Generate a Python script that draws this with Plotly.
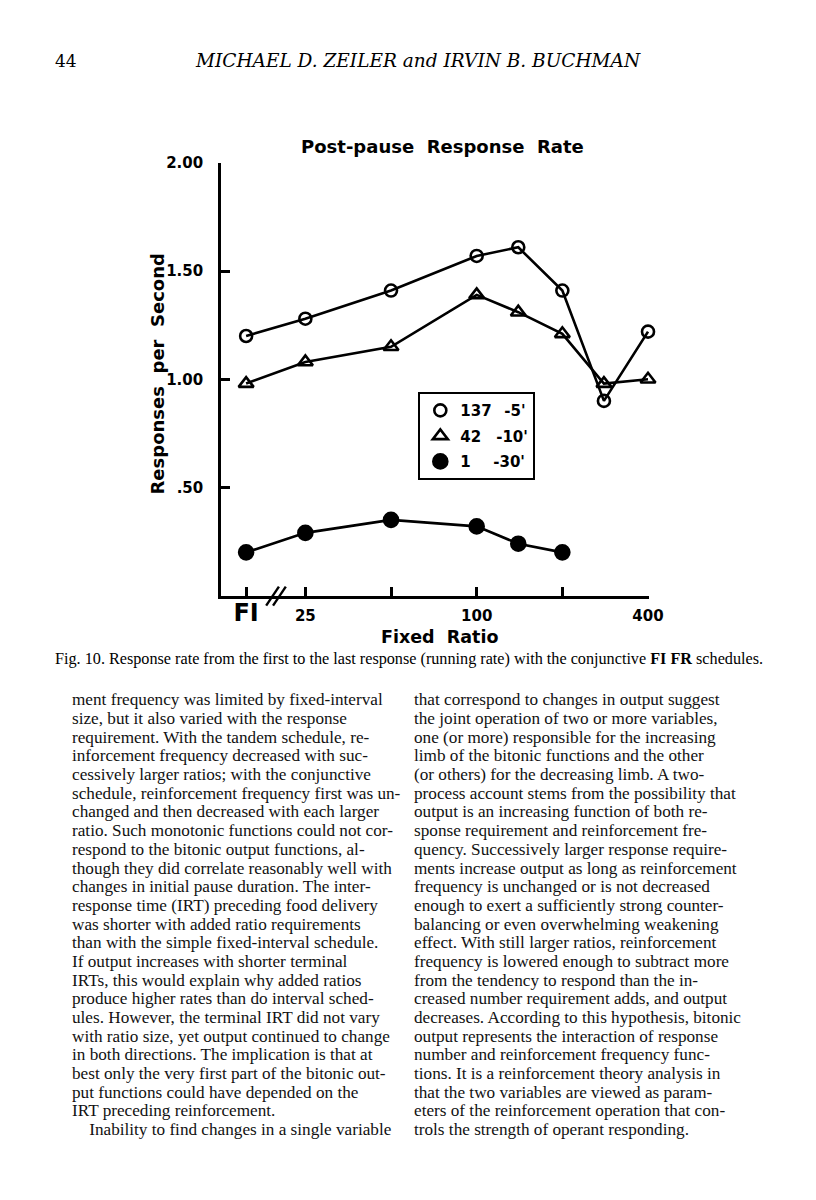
"""Page 44 with Fig. 10: post-pause response rate under conjunctive FI FR schedules"""

import math

import plotly.graph_objects as go

W, H = 816, 1200

# Data
ratios = ["FI", 25, 50, 100, 140, 200, 280, 400]
rate_137 = [1.20, 1.28, 1.41, 1.57, 1.61, 1.41, 0.90, 1.22]
rate_42 = [0.98, 1.08, 1.15, 1.39, 1.31, 1.21, 0.98, 1.00]
rate_1 = [0.20, 0.29, 0.35, 0.32, 0.24, 0.20]
legend_names = ["137\u2002 -5'", "42\u2002\u2002-10'", "1\u2002\u2002\u2002-30'"]
y_ticks = [0.5, 1.0, 1.5, 2.0]
y_ticktext = [".50", "1.00", "1.50", "2.00"]
x_tick_ratios = ["FI", 25, 50, 100, 200, 400]
x_ticktext = ['<span style="font-size:24px">FI</span>', "25", "", "100", "", "400"]

FI_AT = 15.48  # FI is drawn left of the axis break


def xval(r):
    return FI_AT if r == "FI" else r


def px(x):
    return x / W


def py(y):
    return 1 - y / H


SANS = "DejaVu Sans"
SERIF = "Liberation Serif"


def note(fig, text, x, y, size, family, xanchor="center", angle=0, bold=False, color="black"):
    fig.add_annotation(text=text, x=px(x), y=py(y), xref="paper", yref="paper",
                       xanchor=xanchor, yanchor="middle", textangle=angle,
                       showarrow=False, borderpad=0,
                       font=dict(family=family, size=size, color=color,
                                 weight="bold" if bold else "normal"))


fig = go.Figure()

series = [
    (rate_137, legend_names[0], "circle-open", 12),
    (rate_42, legend_names[1], "triangle-up-open", 13),
    (rate_1, legend_names[2], "circle", 14),
]

for i, (vals, name, symbol, size) in enumerate(series):
    fig.add_trace(
        go.Scatter(
            x=[xval(r) for r in ratios[: len(vals)]],
            y=vals,
            mode="lines+markers",
            line=dict(color="black", width=2.6),
            marker=dict(symbol=symbol, size=size, color="black",
                        line=dict(color="black", width=2.6)),
            showlegend=False,
            cliponaxis=False,
        )
    )
    # legend-only entry (marker without the line)
    fig.add_trace(
        go.Scatter(
            x=[None],
            y=[None],
            mode="markers",
            name=name,
            legendgroup=f"g{i}",
            marker=dict(symbol=symbol, size=size, color="black",
                        line=dict(color="black", width=2.6)),
        )
    )

x_left = math.log10(400) - (652 - 217) / 289.9
fig.update_layout(
    width=W,
    height=H,
    margin=dict(l=0, r=0, t=0, b=0),
    paper_bgcolor="white",
    plot_bgcolor="white",
    font=dict(family=SANS, color="black"),
    xaxis=dict(
        type="log",
        domain=[px(217), px(653)],
        range=[x_left, math.log10(400) + 1 / 289.9],
        showline=True,
        linecolor="black",
        linewidth=2.6,
        ticks="inside",
        ticklen=9,
        tickwidth=2.6,
        tickcolor="black",
        tickvals=[xval(r) for r in x_tick_ratios],
        ticktext=x_ticktext,
        tickfont=dict(family=SANS, size=15, color="black", weight="bold"),
        ticklabelstandoff=5,
        showgrid=False,
        zeroline=False,
    ),
    yaxis=dict(
        domain=[py(583), py(147)],
        range=[0, 2],
        showline=True,
        linecolor="black",
        linewidth=2.6,
        ticks="inside",
        ticklen=9,
        tickwidth=2.6,
        tickcolor="black",
        tickvals=y_ticks,
        ticktext=y_ticktext,
        tickfont=dict(family=SANS, size=15, color="black", weight="bold"),
        ticklabelstandoff=12,
        showgrid=False,
        zeroline=False,
    ),
    legend=dict(
        x=px(418),
        y=py(378),
        xanchor="left",
        yanchor="top",
        bordercolor="black",
        borderwidth=2,
        bgcolor="white",
        font=dict(family=SANS, size=15, color="black", weight="bold"),
        tracegroupgap=3,
        itemwidth=30,
    ),
)

# axis break marks
for dx in (0, 7):
    fig.add_shape(type="line", xref="paper", yref="paper",
                  x0=px(263 + dx), y0=py(593), x1=px(276 + dx), y1=py(574),
                  line=dict(color="black", width=2.4))

note(fig, "Post-pause  Response  Rate", 443, 130, 18, SANS, bold=True)
note(fig, "Fixed  Ratio", 440, 625, 17.5, SANS, bold=True)
note(fig, "Responses  per  Second", 152, 360, 18, SANS, angle=-90, bold=True)

# running head
note(fig, "44", 47, 44, 17, "DejaVu Serif", xanchor="left")
note(fig, "<i>MICHAEL D. ZEILER and IRVIN B. BUCHMAN</i>", 418, 44, 18.5, "DejaVu Serif")

# caption
note(fig, "Fig. 10. Response rate from the first to the last response (running rate) "
          "with the conjunctive <b>FI FR</b> schedules.",
     47, 647, 16.2, SERIF, xanchor="left")

left_col = [
    "ment frequency was limited by fixed-interval",
    "size, but it also varied with the response",
    "requirement. With the tandem schedule, re-",
    "inforcement frequency decreased with suc-",
    "cessively larger ratios; with the conjunctive",
    "schedule, reinforcement frequency first was un-",
    "changed and then decreased with each larger",
    "ratio. Such monotonic functions could not cor-",
    "respond to the bitonic output functions, al-",
    "though they did correlate reasonably well with",
    "changes in initial pause duration. The inter-",
    "response time (IRT) preceding food delivery",
    "was shorter with added ratio requirements",
    "than with the simple fixed-interval schedule.",
    "If output increases with shorter terminal",
    "IRTs, this would explain why added ratios",
    "produce higher rates than do interval sched-",
    "ules. However, the terminal IRT did not vary",
    "with ratio size, yet output continued to change",
    "in both directions. The implication is that at",
    "best only the very first part of the bitonic out-",
    "put functions could have depended on the",
    "IRT preceding reinforcement.",
    "\u2003Inability to find changes in a single variable",
]
right_col = [
    "that correspond to changes in output suggest",
    "the joint operation of two or more variables,",
    "one (or more) responsible for the increasing",
    "limb of the bitonic functions and the other",
    "(or others) for the decreasing limb. A two-",
    "process account stems from the possibility that",
    "output is an increasing function of both re-",
    "sponse requirement and reinforcement fre-",
    "quency. Successively larger response require-",
    "ments increase output as long as reinforcement",
    "frequency is unchanged or is not decreased",
    "enough to exert a sufficiently strong counter-",
    "balancing or even overwhelming weakening",
    "effect. With still larger ratios, reinforcement",
    "frequency is lowered enough to subtract more",
    "from the tendency to respond than the in-",
    "creased number requirement adds, and output",
    "decreases. According to this hypothesis, bitonic",
    "output represents the interaction of response",
    "number and reinforcement frequency func-",
    "tions. It is a reinforcement theory analysis in",
    "that the two variables are viewed as param-",
    "eters of the reinforcement operation that con-",
    "trols the strength of operant responding.",
]

for col_x, lines in ((64, left_col), (413, right_col)):
    for k, line in enumerate(lines):
        note(fig, line, col_x, 688 + k * 18.83, 17.2, SERIF, xanchor="left", color="#111")

fig.write_html("out.html")
